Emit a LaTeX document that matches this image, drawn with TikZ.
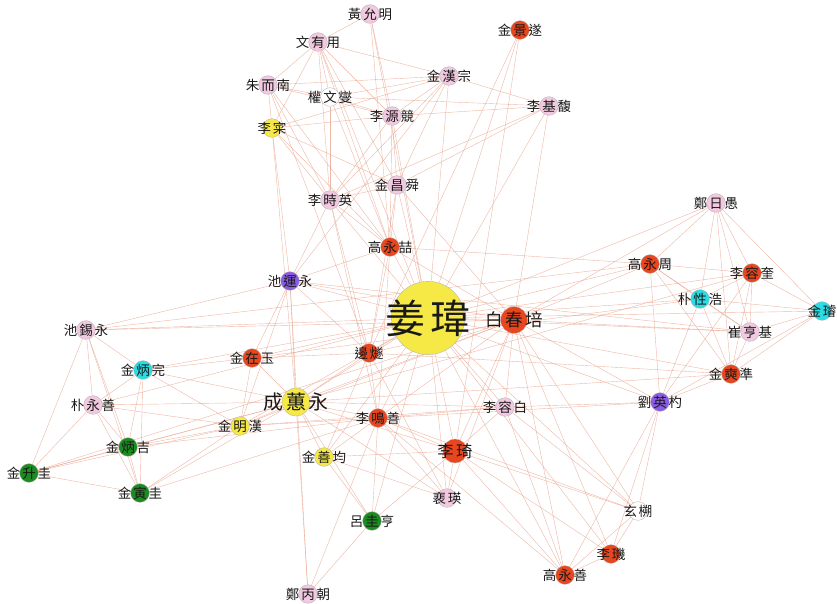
\documentclass[tikz,border=0pt]{standalone}
\usepackage{xcolor}
\usepackage{fontspec}
\usepackage{tikz}
\usetikzlibrary{shapes, backgrounds}
\newfontfamily\hanja[LetterSpace=14]{Noto Sans CJK TC}
\definecolor{pinkc}{HTML}{F2C9E0}
\definecolor{redc}{HTML}{E8461E}
\definecolor{yelc}{HTML}{F6E845}
\definecolor{grnc}{HTML}{1C8C20}
\definecolor{cyac}{HTML}{2ADCE4}
\definecolor{purc}{HTML}{8A5CE2}
\definecolor{tiec}{HTML}{E9A590}
\newcommand{\hjname}{\hanja\fontsize{11.5}{11.5}\selectfont}

\begin{document}
\begin{tikzpicture}[x=0.03cm, y=-0.03cm,
    person/.style={circle, draw=black!30, line width=0.3pt, inner sep=0pt, minimum size=0.56cm},
    pk/.style={person, fill=pinkc},
    rd/.style={person, fill=redc},
    yl/.style={person, fill=yelc},
    gn/.style={person, fill=grnc},
    cy/.style={person, fill=cyac},
    pu/.style={person, fill=purc},
    wh/.style={person, fill=white},
    every label/.style={font=\hjname, text=black!90},
    tie/.style={draw=tiec, line width=0.35pt, opacity=0.8}]
    \useasboundingbox (0,0) rectangle (837,603);

    % top group
    \node (hwang) [pk, label=center:黃允明] at (370,14) {};
    \node (mun) [pk, label=center:文有用] at (318,42) {};
    \node (kimgs) [rd, label=center:金景遂] at (520,30) {};
    \node (ju) [pk, label=center:朱而南] at (268,85) {};
    \node (kwon) [wh, label=center:權文燮] at (330,97) {};
    \node (kimhj) [pk, label=center:金漢宗] at (449,76) {};
    \node (leesg) [pk, label=center:李源競] at (392,116) {};
    \node (leegb) [pk, label=center:李基馥] at (549,106) {};
    \node (leec) [yl, label=center:李寀] at (272,128) {};
    \node (kimcs) [pk, label=center:金昌舜] at (397,185) {};
    \node (leesy) [pk, label=center:李時英] at (330,200) {};
    \node (kyc) [rd, label=center:高永喆] at (390,247) {};
    \node (jiwy) [pu, label=center:池運永] at (290,281) {};

    % centre
    \node (kang) [yl, minimum size=2.2cm, label={[font=\hanja\fontsize{34}{34}\selectfont]center:姜瑋}] at (428,318) {};
    \node (baek) [rd, minimum size=0.8cm, label={[font=\hanja\fontsize{15}{15}\selectfont]center:白春培}] at (514,320) {};

    % right group
    \node (jeong) [pk, label=center:鄭日愚] at (716,203) {};
    \node (kyj) [rd, label=center:高永周] at (650,264) {};
    \node (leeyk) [rd, label=center:李容奎] at (752,273) {};
    \node (park) [cy, label=center:朴性浩] at (700,299) {};
    \node (choi) [pk, label=center:崔亨基] at (750,332) {};
    \node (kimsn) [cy, label=center:金璿] at (822,311) {};
    \node (kimsj) [rd, label=center:金奭準] at (731,374) {};
    \node (yu) [pu, label=center:劉英杓] at (660,402) {};

    % lower right
    \node (leeyb) [pk, label=center:李容白] at (505,407) {};
    \node (hyun) [wh, label=center:玄㮶] at (638,511) {};
    \node (leeki) [rd, label=center:李璣] at (611,554) {};
    \node (kys) [rd, label=center:高永善] at (565,575) {};
    \node (bae) [pk, label=center:裵瑛] at (447,498) {};
    \node (leek) [rd, minimum size=0.72cm, label={[font=\hanja\fontsize{14}{14}\selectfont]center:李琦}] at (455,451) {};

    % lower middle
    \node (yeo) [gn, label=center:呂圭亨] at (372,521) {};
    \node (jbj) [pk, label=center:鄭丙朝] at (308,594) {};
    \node (leems) [rd, label=center:李鳴善] at (378,418) {};
    \node (kimsg) [yl, label=center:金善均] at (324,457) {};
    \node (sung) [yl, minimum size=0.84cm, label={[font=\hanja\fontsize{17}{17}\selectfont]center:成蕙永}] at (296,402) {};
    \node (kimmh) [yl, label=center:金明漢] at (240,426) {};
    \node (kimjo) [rd, label=center:金在玉] at (252,358) {};
    \node (byeon) [rd, label=center:邊燧] at (369,353) {};

    % left group
    \node (jisy) [pk, label=center:池錫永] at (86,330) {};
    \node (kimbw) [cy, label=center:金炳完] at (143,370) {};
    \node (parkys) [pk, label=center:朴永善] at (93,405) {};
    \node (kimbk) [gn, label=center:金炳吉] at (128,447) {};
    \node (kimsk) [gn, label=center:金升圭] at (29,473) {};
    \node (kimig) [gn, label=center:金寅圭] at (140,493) {};

    \begin{scope}[on background layer]
    % ties
    \draw[tie] (kang) edge (baek) edge (kyc) edge (jiwy) edge (byeon) edge (sung) edge (leek) edge (leems) edge (leeyb) edge (bae) edge (yu) edge (kyj) edge (jeong) edge (leeyk) edge (park) edge (kimsn) edge (kimsj) edge (choi) edge (kimgs) edge (kimhj) edge (leegb) edge (leesg) edge (kimcs) edge (leesy) edge (hwang) edge (mun) edge (kimjo) edge (kimmh) edge (jisy) edge (kimbw) edge (parkys) edge (hyun) edge (kys) edge (leeki) edge (kimsg) edge (yeo);
    \draw[tie] (baek) edge (kyc) edge (jiwy) edge (byeon) edge (sung) edge (leek) edge (leems) edge (leeyb) edge (kyj) edge (jeong) edge (choi) edge (yu) edge (hyun) edge (leeki) edge (kys) edge (leegb) edge (kimcs) edge (kimmh) edge (kimsk) edge (bae);
    \draw[tie] (hwang) edge (mun) edge (leesg) edge (kyc);
    \draw[tie] (mun) edge (ju) edge (kwon) edge (kimhj) edge (leesg) edge (leesy) edge (leec) edge (kyc) edge (kimcs);
    \draw[tie] (ju) edge (leec) edge (kwon) edge (leesg) edge (leesy) edge (kyc) edge (kimhj) edge (byeon);
    \draw[tie] (kwon) edge (kimhj) edge (leesg) edge (leesy) edge (kyc) edge (leegb);
    \draw[tie] (kimhj) edge (leegb) edge (leec) edge (kimcs) edge (leesg) edge (leesy);
    \draw[tie] (leesg) edge (leegb) edge (kimcs) edge (kyc) edge (leec) edge (leesy);
    \draw[tie] (leec) edge (kimcs) edge (leesy) edge (kyc) edge (jiwy) edge (sung);
    \draw[tie] (leegb) edge (kimcs) edge (leesy);
    \draw[tie] (kimgs) edge (byeon) edge (leek);
    \draw[tie] (kimcs) edge (leesy) edge (kyc) edge (byeon);
    \draw[tie] (leesy) edge (kyc) edge (jiwy) edge (byeon) edge (leems);
    \draw[tie] (kyc) edge (jiwy) edge (kyj) edge (byeon) edge (leems);
    \draw[tie] (jiwy) edge (jisy) edge (byeon) edge (sung) edge (kimjo) edge (kimmh) edge (jbj) edge (kimhj);
    % right group
    \draw[tie] (jeong) edge (kyj) edge (leeyk) edge (park) edge (choi) edge (kimsn) edge (kimsj);
    \draw[tie] (kyj) edge (leeyk) edge (park) edge (choi) edge (kimsj) edge (yu) edge (jisy);
    \draw[tie] (leeyk) edge (park) edge (kimsn) edge (choi) edge (kimsj) edge (yu) edge (sung);
    \draw[tie] (park) edge (choi) edge (kimsn) edge (kimsj) edge (yu) edge (kimjo);
    \draw[tie] (choi) edge (kimsn) edge (kimsj) edge (jiwy);
    \draw[tie] (kimsn) edge (kimsj) edge (yu);
    \draw[tie] (kimsj) edge (yu) edge (sung) edge (byeon);
    \draw[tie] (yu) edge (leeyb) edge (hyun) edge (kys) edge (leeki) edge (kimmh);
    % lower right
    \draw[tie] (hyun) edge (leeki) edge (kys) edge (leek) edge (leeyb) edge (leems);
    \draw[tie] (leeki) edge (kys) edge (leek);
    \draw[tie] (kys) edge (leek) edge (leeyb) edge (leems);
    \draw[tie] (leeyb) edge (leek) edge (leems) edge (sung) edge (kimmh);
    \draw[tie] (leek) edge (leems) edge (kimsg) edge (sung) edge (bae) edge (yeo);
    \draw[tie] (bae) edge (leems) edge (byeon) edge (sung);
    % lower middle
    \draw[tie] (yeo) edge (sung) edge (kimsg) edge (leems) edge (jbj);
    \draw[tie] (jbj) edge (sung) edge (leems);
    \draw[tie] (kimsg) edge (sung) edge (leems) edge (byeon) edge (bae);
    \draw[tie] (sung) edge (kimjo) edge (kimmh) edge (byeon) edge (leems);
    \draw[tie] (byeon) edge (leems) edge (kimjo);
    \draw[tie] (kimmh) edge (kimjo) edge (kimsk) edge (kimbk) edge (kimig) edge (parkys);
    % left group
    \draw[tie] (jisy) edge (kimbw) edge (parkys) edge (kimsk) edge (kimig) edge (kimbk) edge (baek);
    \draw[tie] (kimbw) edge (parkys) edge (kimbk) edge (kimig) edge (sung) edge (kimjo) edge (kimmh);
    \draw[tie] (parkys) edge (kimsk) edge (kimbk) edge (kimig) edge (sung);
    \draw[tie] (kimsk) edge (kimbk) edge (kimig) edge (sung);
    \draw[tie] (kimbk) edge (kimig) edge (sung) edge (leems);
    \draw[tie] (kimig) edge (sung) edge (leems);
    \end{scope}
\end{tikzpicture}
\end{document}
